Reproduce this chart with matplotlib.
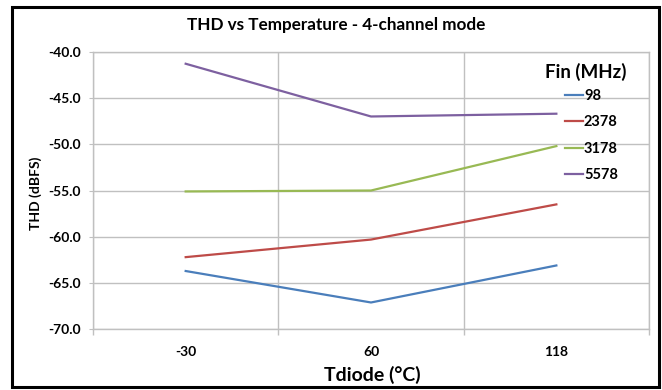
import matplotlib.pyplot as plt
from matplotlib.patches import Rectangle
from matplotlib.ticker import FixedLocator

plt.rcParams['font.family'] = ['Lato', 'DejaVu Sans']
plt.rcParams['font.weight'] = 'bold'
plt.rcParams['axes.unicode_minus'] = False

temps = ['-30', '60', '118']
fin_labels = ['98', '2378', '3178', '5578']
thd_98 = [-63.7, -67.1, -63.1]
thd_2378 = [-62.2, -60.3, -56.5]
thd_3178 = [-55.1, -55.0, -50.2]
thd_5578 = [-41.3, -47.0, -46.7]
colors = ['#4a7ebb', '#be4b48', '#98b954', '#7d60a0']

fig = plt.figure(figsize=(6.62, 3.9), dpi=100)
ax = fig.add_axes([0.1405, 0.1556, 0.8399, 0.7118])

x = range(len(temps))
for vals, lab, c in zip([thd_98, thd_2378, thd_3178, thd_5578], fin_labels, colors):
    ax.plot(x, vals, color=c, lw=1.6, label=lab)

grid_c = '#c0c0c0'
ax.set_xlim(-0.5, len(temps) - 0.5)
ax.set_ylim(-70, -40)
ax.set_yticks(range(-70, -39, 5))
ax.set_yticklabels([f'{v:.1f}' for v in range(-70, -39, 5)])
ax.set_xticks(list(x))
ax.set_xticklabels(temps)
ax.xaxis.set_minor_locator(FixedLocator([i - 0.5 for i in range(len(temps) + 1)]))
ax.tick_params(axis='x', which='major', length=0, pad=12, labelsize=10)
ax.tick_params(axis='x', which='minor', length=4, color=grid_c, width=1)
ax.tick_params(axis='y', length=3, color=grid_c, pad=6, labelsize=10)
ax.grid(axis='y', color=grid_c, lw=1)
ax.grid(axis='x', which='minor', color=grid_c, lw=1)
for s in ax.spines.values():
    s.set_color(grid_c)
    s.set_linewidth(1)

fig.text(0.508, 0.936, 'THD vs Temperature - 4-channel mode', ha='center', va='center',
         fontsize=12.3)
fig.text(0.054, 0.505, 'THD (dBFS)', rotation=90, ha='center', va='center', fontsize=10)
fig.text(0.563, 0.038, 'Tdiode (°C)', ha='center', va='center', fontsize=14)

# legend title drawn on its own so the entries can sit under its right part
fig.text(585.5 / 662, 1 - 72 / 390, 'Fin (MHz)', ha='center', va='center', fontsize=13.5)
ax.legend(loc='upper left', bbox_to_anchor=(565 / 662, 1 - 89 / 390),
          bbox_transform=fig.transFigure, frameon=False, fontsize=10.5,
          borderpad=0, borderaxespad=0, handlelength=1.2, handletextpad=0.1,
          labelspacing=0.85)

# black frame around the whole figure
fig.patches.append(Rectangle((12 / 662, 3 / 390), 647 / 662, 380 / 390,
                             transform=fig.transFigure, fill=False,
                             edgecolor='black', lw=2.2))

fig.savefig('out.png', dpi=100)
